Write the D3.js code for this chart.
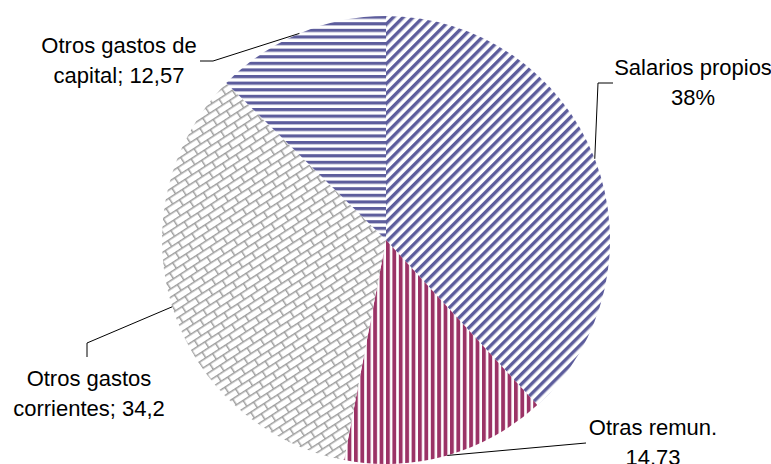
<!DOCTYPE html>
<html>
<head>
<meta charset="utf-8">
<script src="https://cdn.jsdelivr.net/npm/d3@7"></script>
<style>
  body { margin: 0; background: #fff; }
  text { font-family: "Liberation Sans", Arial, sans-serif; font-size: 22px; fill: #000; }
</style>
</head>
<body>
<svg id="chart" width="771" height="464"></svg>
<script>
// Chart data
var categories = ["Salarios propios", "Otras remun.", "Otros gastos corrientes", "Otros gastos de capital"];
var values = [38, 14.73, 34.2, 12.57];
var labelLines = [
  ["Salarios propios", "38%"],
  ["Otras remun.", "14.73"],
  ["Otros gastos", "corrientes; 34,2"],
  ["Otros gastos de", "capital; 12,57"]
];

// Layout
var cx = 386, cy = 240, radius = 224;
var blue = "#5d5d9c", maroon = "#9b3366", brick = "#9e9e9e";

var svg = d3.select("#chart");
var defs = svg.append("defs");

// Diagonal stripes (Salarios)
var pDiag = defs.append("pattern")
  .attr("id", "diag")
  .attr("patternUnits", "userSpaceOnUse")
  .attr("width", 7).attr("height", 7)
  .attr("patternTransform", "rotate(45)");
pDiag.append("rect").attr("width", 7).attr("height", 7).attr("fill", "#fff");
pDiag.append("rect").attr("x", 0).attr("width", 3.4).attr("height", 7).attr("fill", blue);

// Vertical stripes (Otras remun.)
var pVert = defs.append("pattern")
  .attr("id", "vert")
  .attr("patternUnits", "userSpaceOnUse")
  .attr("width", 6.4).attr("height", 6);
pVert.append("rect").attr("width", 6.4).attr("height", 6).attr("fill", "#fff");
pVert.append("rect").attr("width", 3.8).attr("height", 6).attr("fill", maroon);

// Horizontal stripes (capital)
var pHor = defs.append("pattern")
  .attr("id", "hor")
  .attr("patternUnits", "userSpaceOnUse")
  .attr("width", 6).attr("height", 6.6);
pHor.append("rect").attr("width", 6).attr("height", 6.6).attr("fill", "#fff");
pHor.append("rect").attr("width", 6).attr("height", 3.2).attr("fill", blue);

// Diagonal brick (corrientes)
var bw = 16, bh = 7;
var pBrick = defs.append("pattern")
  .attr("id", "brick")
  .attr("patternUnits", "userSpaceOnUse")
  .attr("width", bw).attr("height", bh * 2)
  .attr("patternTransform", "rotate(-33)");
pBrick.append("rect").attr("width", bw).attr("height", bh * 2).attr("fill", "#fff");
pBrick.append("path")
  .attr("d", "M0,0.7H" + bw + "M0," + (bh + 0.7) + "H" + bw +
             "M0.7,0V" + bh + "M" + (bw / 2 + 0.7) + "," + bh + "V" + (bh * 2))
  .attr("stroke", brick).attr("stroke-width", 1.5).attr("fill", "none");

var fills = ["url(#diag)", "url(#vert)", "url(#brick)", "url(#hor)"];

var pie = d3.pie().sort(null).value(function(d) { return d; });
var arcs = pie(values);
var arc = d3.arc().innerRadius(0).outerRadius(radius);

var g = svg.append("g").attr("transform", "translate(" + cx + "," + cy + ")");
g.selectAll("path.slice")
  .data(arcs)
  .enter()
  .append("path")
  .attr("class", "slice")
  .attr("d", arc)
  .attr("fill", function(d, i) { return fills[i]; });

// Label positions (centre of text block) and leader elbows
var labelPos = [
  { x: 693, y: 67, elbow: [[598, 83], [613, 83]] },
  { x: 653, y: 427, elbow: [[586, 443]] },
  { x: 89, y: 378, elbow: [[87, 343], [87, 357]] },
  { x: 119, y: 45, elbow: [[213, 61], [200, 61]] }
];

arcs.forEach(function(d, i) {
  var mid = (d.startAngle + d.endAngle) / 2;
  var start = [cx + radius * Math.sin(mid), cy - radius * Math.cos(mid)];
  var pts = [start].concat(labelPos[i].elbow);
  svg.append("path")
    .attr("d", d3.line()(pts))
    .attr("fill", "none")
    .attr("stroke", "#000")
    .attr("stroke-width", 1);

  var t = svg.append("text")
    .attr("text-anchor", "middle");
  labelLines[i].forEach(function(line, j) {
    t.append("tspan")
      .attr("x", labelPos[i].x)
      .attr("y", labelPos[i].y + 7.5 + j * 30.5)
      .text(line);
  });
});
</script>
</body>
</html>
